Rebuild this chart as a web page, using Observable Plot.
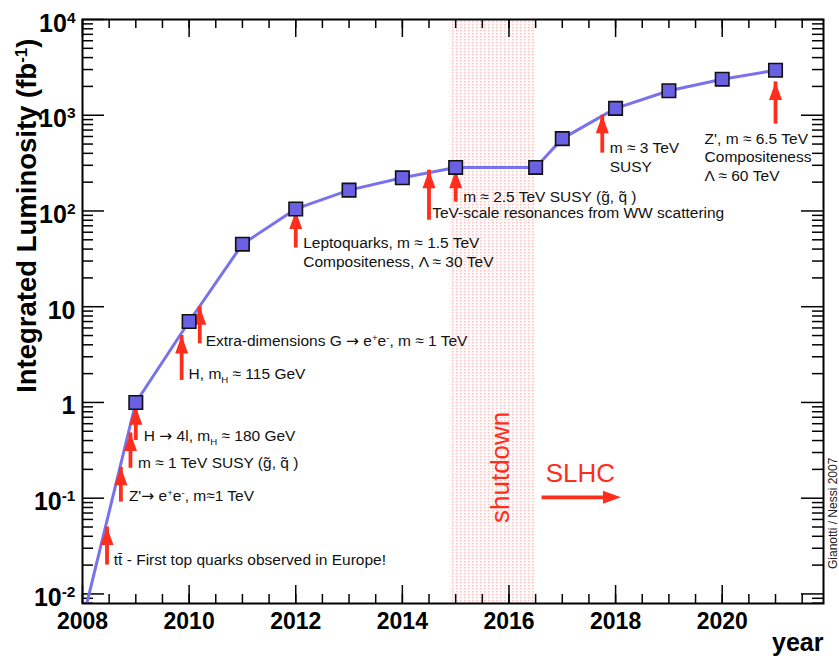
<!DOCTYPE html>
<html>
<head>
<meta charset="utf-8">
<script src="https://cdn.jsdelivr.net/npm/d3@7"></script>
<script src="https://cdn.jsdelivr.net/npm/@observablehq/plot@0.6"></script>
<style>
  html, body { margin: 0; padding: 0; background: #fff; }
  #chart { width: 839px; height: 658px; }
</style>
</head>
<body>
<div id="chart"></div>
<script>
// ---- data ----
const years = [2008, 2009, 2010, 2011, 2012, 2013, 2014, 2015, 2016.5, 2017, 2018, 2019, 2020, 2021];
const lumi  = [0.0052, 1, 7, 45, 105, 165, 222, 285, 285, 570, 1180, 1800, 2380, 2950];
const markerFrom = 1; // first point is the line start, without a marker

const shutdown = [{x1: 2014.9, x2: 2016.5}];

const arrowX    = [2008.46, 2008.72, 2008.9, 2009.0, 2009.86, 2010.2, 2012.0, 2014.5, 2015.0, 2017.75, 2021.0];
const arrowTip  = [0.05, 0.21, 0.48, 0.9, 5.0, 10, 100, 267, 267, 1000, 2230];
const arrowBase = [0.02, 0.091, 0.205, 0.40, 1.7, 4.1, 41, 80, 124, 402, 807];

const noteX = [2008.587, 2008.87, 2009.04, 2009.15, 2009.99, 2010.31, 2012.14, 2012.14, 2014.56, 2015.14, 2017.89, 2017.89, 2019.67, 2019.67, 2019.67];
const noteY = [0.0225, 0.105, 0.232, 0.444, 1.97, 4.33, 46, 29.2, 94.9, 140, 453, 289, 562, 367, 231];
const noteText = [
  "tt\u0304 - First top quarks observed in Europe!",
  "Z'\u2192 e^{+}e^{-}, m\u22481 TeV",
  "m \u2248 1 TeV SUSY (g\u0303, q\u0303 )",
  "H \u2192 4l, m_{H} \u2248 180 GeV",
  "H, m_{H} \u2248 115 GeV",
  "Extra-dimensions G \u2192 e^{+}e^{-}, m \u2248 1 TeV",
  "Leptoquarks, m \u2248 1.5 TeV",
  "Compositeness, \u039B \u2248 30 TeV",
  "TeV-scale resonances from WW scattering",
  "m \u2248 2.5 TeV SUSY (g\u0303, q\u0303 )",
  "m \u2248 3 TeV",
  "SUSY",
  "Z', m \u2248 6.5 TeV",
  "Compositeness",
  "\u039B \u2248 60 TeV"
];

const slhcArrow = [{x1: 2016.62, x2: 2018.1, y: 0.102}];
const slhcLabel = [{x: 2016.69, y: 0.182, t: "SLHC"}];
const shutdownLabel = [{x: 2015.85, y: 0.21, t: "shutdown"}];
const creditLabel = [{x: 2022.09, y: 0.0695, t: "Gianotti / Nessi 2007"}];

const xLabelTicks = [2008, 2010, 2012, 2014, 2016, 2018, 2020];
const xMinorTicks = d3.range(2008, 2022, 0.5);
const yMajor  = [0.01, 0.1, 1, 10, 100, 1000, 10000];
const yLabels = ["10^{-2}", "10^{-1}", "1", "10", "10^{2}", "10^{3}", "10^{4}"];
const yMinor = yMajor.flatMap(d => [2,3,4,5,6,7,8,9].map(k => d * k / 10)).filter(v => v > Math.pow(10, -2.1));

const yTitle = "Integrated Luminosity (fb^{-1})";
const xTitle = "year";

// ---- table built from arrays ----
const series = years.map((x, i) => ({x, y: lumi[i]}));
const markers = series.slice(markerFrom);
const arrows = arrowX.map((x, i) => ({x, tip: arrowTip[i], base: arrowBase[i]}));
const notes = noteX.map((x, i) => ({x, y: noteY[i], t: noteText[i]}));

// ---- layout ----
const W = 839, H = 658;
const mL = 82, mR = 16, mT = 19, mB = 55;
const innerW = W - mL - mR, innerH = H - mT - mB;

const RED = "#ff2d1c";
const headUp = {draw(ctx) { ctx.moveTo(0, 0); ctx.lineTo(6.5, 18); ctx.lineTo(-6.5, 18); ctx.closePath(); }};
const headRight = {draw(ctx) { ctx.moveTo(0, 0); ctx.lineTo(-18, 6.5); ctx.lineTo(-18, -6.5); ctx.closePath(); }};

const tickStyle = {stroke: "black", strokeWidth: 1.5};

const chart = Plot.plot({
  width: W, height: H,
  marginLeft: mL, marginRight: mR, marginTop: mT, marginBottom: mB,
  style: {fontFamily: "'Liberation Sans', Arial, Helvetica, sans-serif", background: "white", color: "black", overflow: "visible"},
  x: {domain: [2008, 2021.9]},
  y: {type: "log", domain: [Math.pow(10, -2.1), 10000]},
  marks: [
    Plot.rect(shutdown, {x1: "x1", x2: "x2", fill: "url(#dots)"}),
    // tick marks (inside the frame)
    Plot.ruleX(xMinorTicks, {x: d => d, insetTop: innerH - 9, ...tickStyle}),
    Plot.ruleX(xMinorTicks, {x: d => d, insetBottom: innerH - 9, ...tickStyle}),
    Plot.ruleX(xLabelTicks, {x: d => d, insetTop: innerH - 18, ...tickStyle}),
    Plot.ruleX(xLabelTicks, {x: d => d, insetBottom: innerH - 18, ...tickStyle}),
    Plot.ruleY(yMinor, {y: d => d, insetRight: innerW - 11, ...tickStyle}),
    Plot.ruleY(yMinor, {y: d => d, insetLeft: innerW - 11, ...tickStyle}),
    Plot.ruleY(yMajor, {y: d => d, insetRight: innerW - 22, ...tickStyle}),
    Plot.ruleY(yMajor, {y: d => d, insetLeft: innerW - 22, ...tickStyle}),
    // axes labels
    Plot.axisX({ticks: xLabelTicks, tickSize: 0, tickPadding: 9, tickFormat: d => `${d}`, fontSize: 23, fontWeight: "bold", label: null}),
    Plot.axisY({ticks: yMajor, tickSize: 0, tickPadding: 7, tickFormat: d => yLabels[yMajor.indexOf(d)], fontSize: 25, fontWeight: "bold", dy: 4, label: null}),
    Plot.text([yTitle], {frameAnchor: "top-left", text: d => d, rotate: -90, textAnchor: "end", lineAnchor: "bottom", dx: -47, dy: 19, fontSize: 27.5, fontWeight: "bold"}),
    Plot.text([xTitle], {frameAnchor: "bottom-right", text: d => d, textAnchor: "end", lineAnchor: "bottom", dy: 47, fontSize: 25, fontWeight: "bold"}),
    // series line
    Plot.line(series, {x: "x", y: "y", stroke: "#7a72ec", strokeWidth: 3, clip: true}),
    // annotation arrows
    Plot.ruleX(arrows, {x: "x", y1: "base", y2: "tip", stroke: RED, strokeWidth: 3.8}),
    Plot.dot(arrows, {x: "x", y: "tip", symbol: headUp, fill: RED, stroke: "none", r: 6}),
    Plot.ruleY(slhcArrow, {y: "y", x1: "x1", x2: d => d.x2 - 0.2, stroke: RED, strokeWidth: 3.8}),
    Plot.dot(slhcArrow, {x: "x2", y: "y", symbol: headRight, fill: RED, stroke: "none", r: 6}),
    // markers
    Plot.dot(markers, {x: "x", y: "y", symbol: "square", r: 7.6, fill: "#6a60e4", stroke: "#111", strokeWidth: 1.6}),
    // texts
    Plot.text(notes, {x: "x", y: "y", text: "t", textAnchor: "start", lineAnchor: "middle", fontSize: 15.5, fill: "#111"}),
    Plot.text(slhcLabel, {x: "x", y: "y", text: "t", textAnchor: "start", lineAnchor: "middle", fontSize: 26, fill: RED}),
    Plot.text(shutdownLabel, {x: "x", y: "y", text: "t", rotate: -90, textAnchor: "middle", lineAnchor: "middle", fontSize: 26, fill: RED}),
    Plot.text(creditLabel, {x: "x", y: "y", text: "t", rotate: -90, textAnchor: "middle", lineAnchor: "middle", fontSize: 12, fill: "#222"}),
    Plot.frame({stroke: "black", strokeWidth: 2})
  ]
});

// pattern for the shutdown band
const svgns = "http://www.w3.org/2000/svg";
const defs = document.createElementNS(svgns, "defs");
defs.innerHTML = '<pattern id="dots" width="4" height="3" patternUnits="userSpaceOnUse">' +
  '<rect width="4" height="3" fill="#fffafa"/><rect x="0" y="0" width="1.6" height="1.4" fill="#fcc4c4"/></pattern>';
chart.insertBefore(defs, chart.firstChild);

// superscripts / subscripts markup ^{..} _{..}, larger arrow glyph
function richify(el) {
  const s = el.textContent;
  if (!/[\^_]\{|\u2192/.test(s)) return;
  const parts = s.split(/([\^_]\{[^}]*\}|\u2192)/);
  el.textContent = "";
  for (const p of parts) {
    if (!p) continue;
    const m = p.match(/^([\^_])\{([^}]*)\}$/);
    const ts = document.createElementNS(svgns, "tspan");
    if (m) {
      ts.textContent = m[2];
      ts.setAttribute("font-size", "0.62em");
      ts.setAttribute("baseline-shift", m[1] === "^" ? "55%" : "-35%");
    } else if (p === "\u2192") {
      ts.textContent = p;
      ts.setAttribute("font-family", "'DejaVu Sans', sans-serif");
    } else {
      ts.textContent = p;
    }
    el.appendChild(ts);
  }
}
chart.querySelectorAll("text").forEach(richify);

document.getElementById("chart").appendChild(chart);
</script>
</body>
</html>
